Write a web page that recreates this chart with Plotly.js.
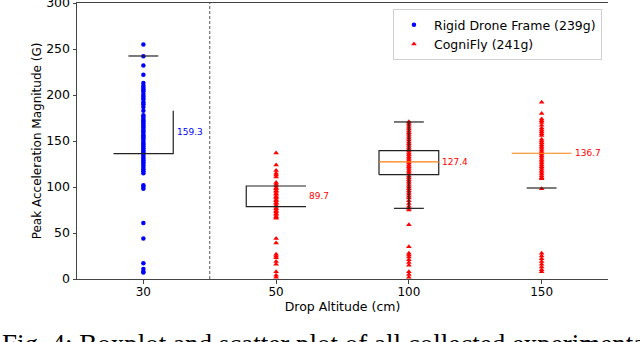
<!DOCTYPE html>
<html>
<head>
<meta charset="utf-8">
<script src="https://cdn.plot.ly/plotly-3.0.1.min.js"></script>
<style>html,body{margin:0;padding:0;background:#fff;}#chart{width:640px;height:342px;}</style>
</head>
<body>
<div id="chart"></div>
<script>
// ---- data ----
const categories = ['30', '50', '100', '150'];
const positions = [1, 2, 3, 4];
const rigid30 = [255, 242, 232, 222, 213, 210, 208, 206, 204, 201, 199, 197, 195, 192, 190, 187, 183, 178, 176, 174, 172, 171, 169, 167, 165, 163, 161, 160, 158, 156, 155, 153, 151, 149, 147, 146, 144, 142, 140, 138, 137, 135, 133, 131, 129, 127, 125, 123, 121, 119, 117, 115, 102, 100, 98, 61, 44, 17, 11, 8, 7];
const cogni50 = [137, 124, 118, 115, 113, 111, 105, 103, 101, 99, 98, 96, 95, 93, 92, 90, 89, 88, 86, 85, 83, 82, 80, 79, 77, 76, 74, 73, 71, 70, 68, 67, 66, 44, 39, 27, 25, 23, 19, 16, 8, 4, 2];
const cogni100 = [171, 169, 167, 165, 163, 161, 159, 157, 155, 153, 151, 149, 147, 145, 143, 141, 139, 137, 135, 133, 131, 129, 128, 126, 124, 122, 120, 118, 116, 114, 112, 110, 108, 106, 104, 102, 100, 98, 96, 94, 92, 90, 88, 85, 82, 79, 77, 75, 59, 35, 28, 26, 24, 21, 18, 15, 8, 5, 2];
const cogni150 = [192, 180, 174, 172, 170, 167, 164, 162, 160, 158, 156, 152, 150, 148, 146, 144, 142, 140, 138, 136, 134, 132, 130, 128, 126, 124, 122, 120, 118, 116, 114, 112, 110, 109, 98, 28, 25, 22, 19, 16, 13, 10, 8];
const medians = [159.3, 89.7, 127.4, 136.7];
const q1 = [136.2, 78.6, 113.4, null];
const q3 = [183.0, 101.1, 139.5, null];
const lowerCaps = [null, null, 76.8, 98.9];
const upperCaps = [242.4, null, 170.7, null];
const seriesNames = ['Rigid Drone Frame (239g)', 'CogniFly (241g)'];
const separatorPos = 1.5;

// ---- styles ----
const BLUE = '#0000ff', RED = '#ff0000', ORANGE = '#ff7f0e', BLACK = '#222';
const HW = 0.225, CW = 0.1125;

const traces = [];
traces.push({
  type: 'scatter', mode: 'markers', name: seriesNames[0],
  x: rigid30.map(() => positions[0]), y: rigid30,
  marker: {symbol: 'circle', size: 4.5, color: BLUE}
});
const redGroups = [cogni50, cogni100, cogni150];
redGroups.forEach((vals, i) => {
  traces.push({
    type: 'scatter', mode: 'markers', name: seriesNames[1],
    showlegend: i === 0, legendgroup: 'cogni',
    x: vals.map(() => positions[i + 1]), y: vals,
    marker: {symbol: 'triangle-up', size: 5, color: RED}
  });
});

// box outlines (black), visible parts per group
const bx = [], by = [];
function seg(xs, ys) { bx.push(...xs, null); by.push(...ys, null); }
{
  const p = positions[0];
  seg([p - HW, p + HW, p + HW], [q1[0], q1[0], q3[0]]);
  seg([p - CW, p + CW], [upperCaps[0], upperCaps[0]]);
}
{
  const p = positions[1];
  seg([p + HW, p - HW, p - HW, p + HW], [q3[1], q3[1], q1[1], q1[1]]);
}
{
  const p = positions[2];
  seg([p - HW, p + HW, p + HW, p - HW, p - HW], [q1[2], q1[2], q3[2], q3[2], q1[2]]);
  seg([p, p], [q3[2], upperCaps[2]]);
  seg([p, p], [q1[2], lowerCaps[2]]);
  seg([p - CW, p + CW], [upperCaps[2], upperCaps[2]]);
  seg([p - CW, p + CW], [lowerCaps[2], lowerCaps[2]]);
}
{
  const p = positions[3];
  seg([p - CW, p + CW], [lowerCaps[3], lowerCaps[3]]);
}
traces.push({type: 'scatter', mode: 'lines', x: bx, y: by, showlegend: false,
  line: {color: BLACK, width: 1.2}, hoverinfo: 'skip'});

const mx = [], my = [];
[2, 3].forEach(i => { mx.push(positions[i] - HW, positions[i] + HW, null); my.push(medians[i], medians[i], null); });
traces.push({type: 'scatter', mode: 'lines', x: mx, y: my, showlegend: false,
  line: {color: ORANGE, width: 1.2}, hoverinfo: 'skip'});

const labelColors = [BLUE, RED, RED, RED];
const annotations = medians.map((m, i) => ({
  x: positions[i] + 0.235, y: m, xref: 'x', yref: 'y', text: m.toFixed(1),
  showarrow: false, xanchor: 'left', yanchor: 'middle',
  font: {family: 'DejaVu Sans', size: 9, color: labelColors[i]}
}));
annotations.push({
  xref: 'paper', yref: 'paper', x: -0.145, y: -0.175, xanchor: 'left', yanchor: 'top',
  text: 'Fig. 4: Boxplot and scatter plot of all collected experimental',
  showarrow: false, font: {family: 'Liberation Serif', size: 27, color: '#000'}
});

const layout = {
  width: 640, height: 342,
  margin: {l: 77, r: 32, t: 3, b: 63},
  paper_bgcolor: '#fff', plot_bgcolor: '#fff',
  font: {family: 'DejaVu Sans', size: 12, color: '#000'},
  showlegend: true,
  legend: {x: 0.595, y: 0.978, xanchor: 'left', yanchor: 'top',
    bgcolor: '#fff', bordercolor: '#d0d0d0', borderwidth: 1,
    font: {family: 'DejaVu Sans', size: 12.5}, tracegroupgap: 0},
  xaxis: {
    range: [0.5, 4.5], tickvals: positions, ticktext: categories,
    showgrid: false, zeroline: false, showline: true, linecolor: '#444', linewidth: 1,
    mirror: true, ticks: 'outside', ticklen: 3.5, tickcolor: '#444',
    ticklabelstandoff: -2,
    tickfont: {size: 12},
    title: {text: 'Drop Altitude (cm)', font: {size: 12.5}, standoff: 0}
  },
  yaxis: {
    range: [0, 300], tickvals: [0, 50, 100, 150, 200, 250, 300],
    showgrid: false, zeroline: false, showline: true, linecolor: '#444', linewidth: 1,
    ticks: 'outside', ticklen: 3.5, tickcolor: '#444',
    ticklabeloverflow: 'allow',
    tickfont: {size: 12.5},
    title: {text: 'Peak Acceleration Magnitude (G)', font: {size: 12}, standoff: 1}
  },
  shapes: [{type: 'line', xref: 'x', yref: 'paper', x0: separatorPos, x1: separatorPos, y0: 0, y1: 1,
    line: {color: '#555', width: 1, dash: '3px,2px'}}],
  annotations: annotations
};

Plotly.newPlot('chart', traces, layout, {staticPlot: true, displayModeBar: false});
</script>
</body>
</html>
